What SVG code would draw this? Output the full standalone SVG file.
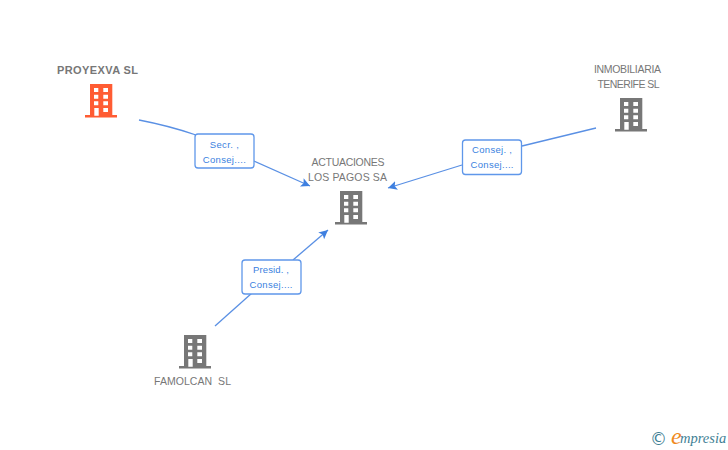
<svg xmlns="http://www.w3.org/2000/svg" width="728" height="450" viewBox="0 0 728 450">
<style>
.n{font:10.5px "Liberation Sans",Arial,sans-serif;fill:#777;text-anchor:middle}
.b{font-weight:bold;font-size:11px}
.l{font:9.5px "Liberation Sans",Arial,sans-serif;fill:#3a7fe0;text-anchor:middle}
.e{fill:none;stroke:#5a90e4;stroke-width:1.3}
.box{fill:#fff;stroke:#5f97ea;stroke-width:1.3}
</style>
<defs>
<marker id="a" markerUnits="userSpaceOnUse" markerWidth="12" markerHeight="12" refX="9" refY="5" orient="auto"><path d="M0 0.500L9 5L0 9.500L2 5Z" fill="#3f80e0"/></marker>
<symbol id="bld" width="33" height="34" viewBox="0 0 33 34"><path fill="currentColor" fill-rule="evenodd" d="M5 0H27.300V31H32V33.500H0V31H5ZM9 4V8H13.300V4ZM18.300 4V8H23V4ZM9 10.700V14.700H13.300V10.700ZM18.300 10.700V14.700H23V10.700ZM9 17.300V21.300H13.300V17.300ZM18.300 17.300V21.300H23V17.300ZM9.300 24V31.700H13.700V24ZM18.300 24V28H23V24Z"/></symbol>
</defs>
<g id="connectors">
<path class="e" d="M139 120Q170 126 196 135"/>
<path class="e" d="M254 161L310 186" marker-end="url(#a)"/>
<path class="e" d="M596 128L522 146"/>
<path class="e" d="M462 165L388 188" marker-end="url(#a)"/>
<path class="e" d="M215 326L252 293"/>
<path class="e" d="M293 260L328 230" marker-end="url(#a)"/>
</g>
<g id="label-1"><rect class="box" x="195" y="134" width="59" height="34" rx="3"/><text class="l" x="224.300" y="147.500" textLength="29">Secr. ,</text><text class="l" x="224.300" y="162.500" textLength="43">Consej....</text></g>
<g id="label-2"><rect class="box" x="462.500" y="140" width="59" height="34.500" rx="3"/><text class="l" x="492" y="153" textLength="40">Consej. ,</text><text class="l" x="492" y="168" textLength="43">Consej....</text></g>
<g id="label-3"><rect class="box" x="242" y="260" width="59" height="34" rx="3"/><text class="l" x="271" y="273" textLength="36">Presid. ,</text><text class="l" x="271" y="288" textLength="43">Consej....</text></g>
<g id="proyexva"><text class="n b" x="97.500" y="74" textLength="81">PROYEXVA SL</text><use href="#bld" x="85" y="84" style="color:#ff5c33"/></g>
<g id="actuaciones"><text class="n" x="348" y="166" textLength="73">ACTUACIONES</text><text class="n" x="347.500" y="181" textLength="79">LOS PAGOS SA</text><use href="#bld" x="335" y="191" style="color:#777"/></g>
<g id="inmobiliaria"><text class="n" x="627.500" y="73" textLength="67">INMOBILIARIA</text><text class="n" x="628.500" y="88" textLength="62">TENERIFE SL</text><use href="#bld" x="615" y="98" style="color:#777"/></g>
<g id="famolcan"><use href="#bld" x="179" y="335" style="color:#777"/><text class="n" x="192.500" y="385" textLength="77" xml:space="preserve">FAMOLCAN  SL</text></g>
<g id="logo"><text x="650" y="445" style="font:17px 'DejaVu Sans',sans-serif;fill:#3f7f95">©</text><text x="671" y="444" style="font:italic 24px 'Liberation Serif',serif;fill:#f08a1d">e</text><text x="680" y="443" style="font:italic 14.500px 'Liberation Serif',serif;fill:#3f7f95">mpresia</text></g>
</svg>
